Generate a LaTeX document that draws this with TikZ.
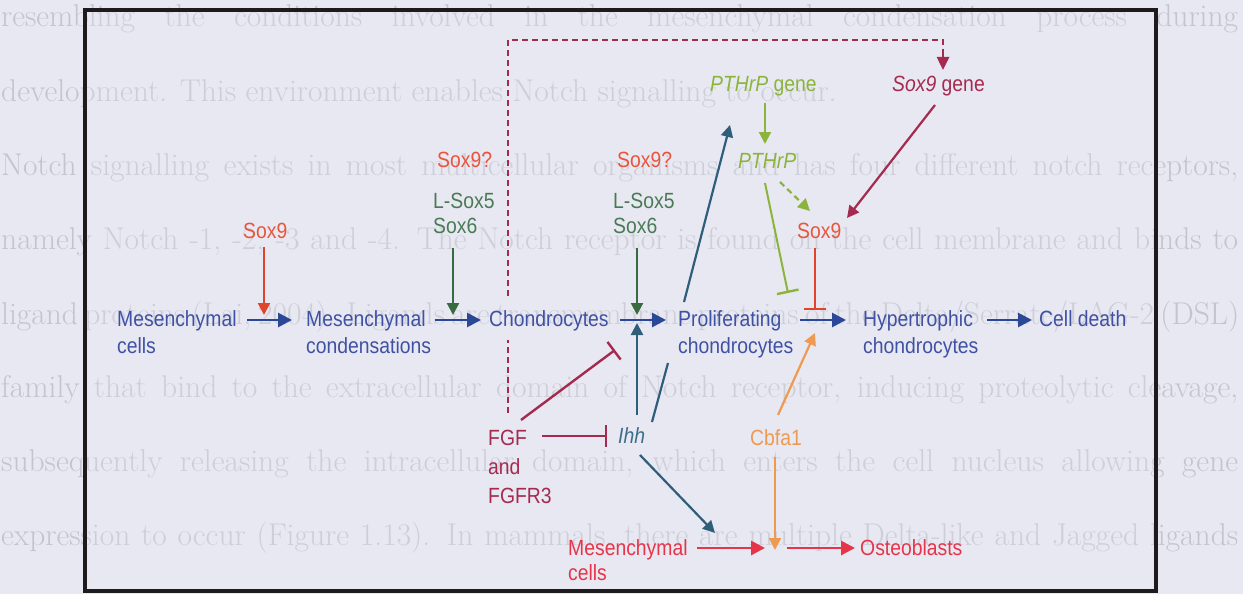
\documentclass[tikz,border=0pt]{standalone}
\usepackage{fontspec}
\usetikzlibrary{arrows.meta}
\newfontfamily\df[FakeStretch=0.88]{Liberation Sans}
\definecolor{bg}{HTML}{E8E8F2}
\definecolor{faint}{HTML}{C4C4CE}
\definecolor{frame}{HTML}{1E1A1E}
\definecolor{bluetxt}{HTML}{3F51A3}
\definecolor{bluearr}{HTML}{2B4896}
\definecolor{redtxt}{HTML}{E8553C}
\definecolor{redarr}{HTML}{E0452C}
\definecolor{dgreen}{HTML}{4A7A55}
\definecolor{dgreenarr}{HTML}{3A6B40}
\definecolor{lgreen}{HTML}{8CB43C}
\definecolor{crimson}{HTML}{A52A50}
\definecolor{teal}{HTML}{2F5E7A}
\definecolor{tealtxt}{HTML}{3C6E8A}
\definecolor{orange}{HTML}{EE9A50}
\definecolor{rose}{HTML}{E63448}
\newcommand\twoln[3][27pt]{\vtop{\baselineskip=#1\hbox{#2}\hbox{#3}}}
\tikzset{
  lbl/.style={anchor=base west, inner sep=0pt},
  bgtext/.style={anchor=base west, inner sep=0pt, text=faint, font=\fontsize{31.5}{36}\selectfont},
  arr/.style={line width=2.8pt, -{Triangle[length=14pt,width=14pt]}},
  thinarr/.style={line width=2.2pt, -{Triangle[length=12pt,width=12pt]}},
  tbar/.style={line width=2.4pt, -{Bar[width=22pt,line width=2.4pt]}},
  dashline/.style={line width=2.5pt, dash pattern=on 6pt off 4pt},
}
\begin{document}
\begin{tikzpicture}[x=1pt,y=-1pt,font=\df\fontsize{22}{26}\selectfont]
\fill[bg] (0,0) rectangle (1243,594);
\useasboundingbox (0,0) rectangle (1243,594);
% faded page text behind the figure
\node[bgtext] (p1) at (1,27) {\makebox[1237pt][s]{resembling the conditions involved in the mesenchymal condensation process during}};
\node[bgtext] (p2) at (1,101) {development. This environment enables Notch signalling to occur.};
\node[bgtext] (p3) at (1,175) {\makebox[1237pt][s]{Notch signalling exists in most multicellular organisms and has four different notch receptors,}};
\node[bgtext] (p4) at (1,249) {\makebox[1237pt][s]{namely Notch -1, -2, -3 and -4. The Notch receptor is found on the cell membrane and binds to}};
\node[bgtext] (p5) at (1,324) {\makebox[1237pt][s]{ligand proteins (Lai, 2004). Ligands are transmembrane proteins of the Delta/Serrate/LAG-2 (DSL)}};
\node[bgtext] (p6) at (1,397) {\makebox[1237pt][s]{family that bind to the extracellular domain of Notch receptor, inducing proteolytic cleavage,}};
\node[bgtext] (p7) at (1,471) {\makebox[1237pt][s]{subsequently releasing the intracellular domain, which enters the cell nucleus allowing gene}};
\node[bgtext] (p8) at (1,545) {\makebox[1237pt][s]{expression to occur (Figure 1.13). In mammals, there are multiple Delta-like and Jagged ligands}};
% figure frame
\fill[bg, opacity=0.3] (85,10) rectangle (1156,591);
\draw[frame, line width=3.5pt] (85,10) rectangle (1156,591);

% main row
\node[lbl, text=bluetxt] (mc1) at (117,326) {\twoln{Mesenchymal}{cells}};
\node[lbl, text=bluetxt] (mcond) at (306,326) {\twoln{Mesenchymal}{condensations}};
\node[lbl, text=bluetxt] (chon) at (489,326) {Chondrocytes};
\node[lbl, text=bluetxt] (prol) at (678,326) {\twoln{Proliferating}{chondrocytes}};
\node[lbl, text=bluetxt] (hyp) at (863,326) {\twoln{Hypertrophic}{chondrocytes}};
\node[lbl, text=bluetxt] (death) at (1039,326) {Cell death};

% regulators above
\node[lbl, text=redtxt] (sox9a) at (243,238) {Sox9};
\node[lbl, text=redtxt] (sox9q1) at (437,167) {Sox9?};
\node[lbl, text=dgreen] (ls1) at (433,208) {\twoln[25pt]{L-Sox5}{Sox6}};
\node[lbl, text=redtxt] (sox9q2) at (617,167) {Sox9?};
\node[lbl, text=dgreen] (ls2) at (613,208) {\twoln[25pt]{L-Sox5}{Sox6}};
\node[lbl, text=lgreen] (pthg) at (710,92) {\textit{PTHrP} gene};
\node[lbl, text=lgreen] (pth) at (738,168) {\textit{PTHrP}};
\node[lbl, text=redtxt] (sox9b) at (797,238) {Sox9};
\node[lbl, text=crimson] (sox9g) at (892,92) {\textit{Sox9} gene};

% lower
\node[lbl, text=crimson] (fgf) at (488,445) {\vtop{\baselineskip=29pt\hbox{FGF}\hbox{and}\hbox{FGFR3}}};
\node[lbl, text=tealtxt] (ihh) at (618,443) {\textit{Ihh}};
\node[lbl, text=orange] (cbfa) at (750,445) {Cbfa1};
\node[lbl, text=rose] (mc2) at (568,555) {\twoln[25pt]{Mesenchymal}{cells}};
\node[lbl, text=rose] (osteo) at (860,555) {Osteoblasts};

% coordinates
\coordinate (a1s) at (247,320); \coordinate (a1e) at (292,320);
\coordinate (a2s) at (435,320); \coordinate (a2e) at (481,320);
\coordinate (a3s) at (620,320); \coordinate (a3e) at (666,320);
\coordinate (a4s) at (800,320); \coordinate (a4e) at (846,320);
\coordinate (a5s) at (987,320); \coordinate (a5e) at (1032,320);
\coordinate (jn) at (775,550);

% main arrows
\draw[arr, bluearr] (a1s) -- (a1e);
\draw[arr, bluearr] (a2s) -- (a2e);
\draw[arr, bluearr] (a3s) -- (a3e);
\draw[arr, bluearr] (a4s) -- (a4e);
\draw[arr, bluearr] (a5s) -- (a5e);

% vertical regulators
\draw[thinarr, redarr] (264,247) -- (264,315);
\draw[thinarr, dgreenarr] (453,248) -- (453,315);
\draw[thinarr, dgreenarr] (637,248) -- (637,315);
\draw[tbar, redarr] (815,248) -- (815,310);

% PTHrP
\draw[thinarr, lgreen] (765,103) -- (765,144);
\draw[thinarr, lgreen, dash pattern=on 6pt off 4pt] (780,182) -- (810,211);
\draw[tbar, lgreen, line width=2pt] (765,183) -- (788,293);

% Sox9 gene
\draw[thinarr, crimson] (935,105) -- (847,218);
\draw[dashline, crimson] (508,413) -- (508,340);
\draw[dashline, crimson] (508,296) -- (508,40) -- (943,40) -- (943,55);
\draw[crimson, line width=2.5pt, -{Triangle[length=13pt,width=12pt]}] (943,54) -- (943,70);

% FGF
\draw[tbar, crimson] (521,420) -- (615,350);
\draw[tbar, crimson] (542,436) -- (607,436);

% Ihh
\draw[thinarr, teal] (637,415) -- (637,323);
\draw[teal, line width=2.2pt] (652,422) -- (668,363);
\draw[thinarr, teal] (684,302) -- (730,125);
\draw[thinarr, teal] (640,455) -- (715,533);

% Cbfa1
\draw[thinarr, orange] (778,415) -- (815,333);
\draw[thinarr, orange] (775,457) -- (jn);

% osteoblast row
\draw[arr, rose] (697,548) -- (765,548);
\draw[arr, rose] (787,548) -- (855,548);
\end{tikzpicture}
\end{document}
